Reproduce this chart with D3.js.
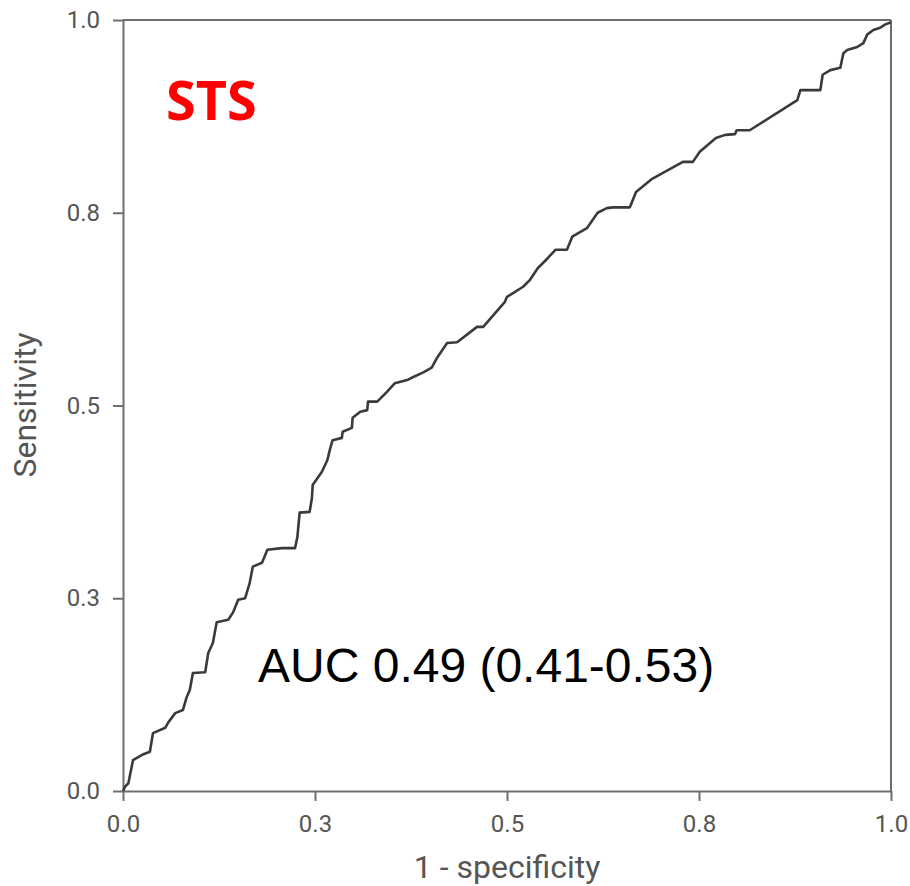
<!DOCTYPE html>
<html>
<head>
<meta charset="utf-8">
<script src="https://cdn.jsdelivr.net/npm/d3@7"></script>
<style>
  html, body { margin: 0; padding: 0; background: #fff; }
  svg { display: block; }
</style>
</head>
<body>
<svg id="chart" width="910" height="886"></svg>
<script>
// ---- Data ----
const fpr = [0, 0.003, 0.007, 0.013, 0.025, 0.035, 0.039, 0.055, 0.059, 0.068, 0.078, 0.083, 0.087, 0.091, 0.107, 0.111, 0.117, 0.122, 0.137, 0.143, 0.150, 0.159, 0.165, 0.169, 0.181, 0.188, 0.207, 0.224, 0.227, 0.230, 0.243, 0.246, 0.247, 0.254, 0.259, 0.266, 0.270, 0.273, 0.285, 0.286, 0.298, 0.299, 0.309, 0.318, 0.319, 0.331, 0.344, 0.354, 0.370, 0.378, 0.391, 0.402, 0.409, 0.422, 0.435, 0.461, 0.469, 0.497, 0.500, 0.510, 0.521, 0.530, 0.540, 0.553, 0.563, 0.578, 0.585, 0.604, 0.618, 0.630, 0.638, 0.660, 0.668, 0.689, 0.729, 0.742, 0.751, 0.772, 0.784, 0.797, 0.799, 0.816, 0.878, 0.882, 0.908, 0.911, 0.921, 0.934, 0.938, 0.943, 0.956, 0.964, 0.969, 0.977, 0.986, 0.992, 1.0];
const tpr = [0, 0.006, 0.010, 0.040, 0.047, 0.051, 0.075, 0.082, 0.089, 0.101, 0.105, 0.122, 0.131, 0.153, 0.154, 0.179, 0.192, 0.219, 0.222, 0.231, 0.248, 0.250, 0.270, 0.291, 0.296, 0.313, 0.315, 0.315, 0.329, 0.361, 0.362, 0.380, 0.397, 0.407, 0.414, 0.429, 0.445, 0.455, 0.458, 0.466, 0.471, 0.484, 0.492, 0.494, 0.505, 0.505, 0.518, 0.529, 0.533, 0.537, 0.543, 0.549, 0.562, 0.581, 0.582, 0.602, 0.602, 0.634, 0.641, 0.647, 0.654, 0.663, 0.678, 0.691, 0.702, 0.702, 0.719, 0.730, 0.750, 0.756, 0.757, 0.757, 0.777, 0.794, 0.816, 0.816, 0.829, 0.847, 0.851, 0.852, 0.857, 0.857, 0.896, 0.909, 0.909, 0.929, 0.935, 0.938, 0.957, 0.961, 0.965, 0.970, 0.981, 0.987, 0.990, 0.994, 0.997, 1.0];
const tickValues = [0, 0.25, 0.5, 0.75, 1.0];
const tickLabels = ["0.0", "0.3", "0.5", "0.8", "1.0"];
const xTitle = "1 - specificity";
const yTitle = "Sensitivity";
const modelLabel = "STS";
const aucLabel = "AUC 0.49 (0.41-0.53)";

// ---- Layout ----
const W = 910, H = 886;
const m = { left: 123, right: 19, top: 20, bottom: 95 };
const iw = W - m.left - m.right, ih = H - m.top - m.bottom;

const svg = d3.select("#chart");
const g = svg.append("g").attr("transform", `translate(${m.left},${m.top})`);

const x = d3.scaleLinear().domain([0, 1]).range([0, iw]);
const y = d3.scaleLinear().domain([0, 1]).range([ih, 0]);

const axisColor = "#6e6e6e";
const textColor = "#555";
const tickFont = "Roboto, 'Liberation Sans', Arial, sans-serif";

// Axes
const xAxis = d3.axisBottom(x).tickValues(tickValues)
  .tickFormat((d, i) => tickLabels[i]).tickSize(10).tickPadding(14).tickSizeOuter(0);
const yAxis = d3.axisLeft(y).tickValues(tickValues)
  .tickFormat((d, i) => tickLabels[i]).tickSize(10).tickPadding(13).tickSizeOuter(0);

const gx = g.append("g").attr("transform", `translate(0,${ih})`).call(xAxis);
const gy = g.append("g").call(yAxis);

[gx, gy].forEach(a => {
  a.select(".domain").attr("stroke", axisColor).attr("stroke-width", 2);
  a.selectAll(".tick line").attr("stroke", axisColor).attr("stroke-width", 2);
  a.selectAll(".tick text").attr("fill", textColor)
    .style("font-family", tickFont).style("font-size", "24px");
});

// Frame (top and right borders)
g.append("line").attr("x1", 0).attr("x2", iw).attr("y1", 0).attr("y2", 0)
  .attr("stroke", axisColor).attr("stroke-width", 2);
g.append("line").attr("x1", iw).attr("x2", iw).attr("y1", 0).attr("y2", ih)
  .attr("stroke", axisColor).attr("stroke-width", 2);

// ROC curve
const pts = fpr.map((v, i) => [v, tpr[i]]);
const line = d3.line().x(d => x(d[0])).y(d => y(d[1]));
g.append("path").datum(pts)
  .attr("d", line)
  .attr("fill", "none")
  .attr("stroke", "#3a3a3a")
  .attr("stroke-width", 2.6)
  .attr("stroke-linejoin", "round");

// Axis titles
svg.append("text")
  .attr("x", m.left + iw / 2).attr("y", 878)
  .attr("text-anchor", "middle")
  .attr("fill", textColor)
  .style("font-family", tickFont).style("font-size", "32px")
  .text(xTitle);

svg.append("text")
  .attr("transform", `translate(36,405) rotate(-90)`)
  .attr("text-anchor", "middle")
  .attr("fill", textColor)
  .style("font-family", tickFont).style("font-size", "32px")
  .text(yTitle);

// Annotations
svg.append("text")
  .attr("x", 166).attr("y", 120)
  .attr("fill", "#ff0000")
  .style("font-family", "'Open Sans', 'Noto Sans', sans-serif")
  .style("font-weight", "700").style("font-size", "54px")
  .text(modelLabel);

svg.append("text")
  .attr("x", 258).attr("y", 682)
  .attr("fill", "#000")
  .style("font-family", "'Liberation Sans', Arial, sans-serif")
  .style("font-size", "48px")
  .text(aucLabel);
</script>
</body>
</html>
